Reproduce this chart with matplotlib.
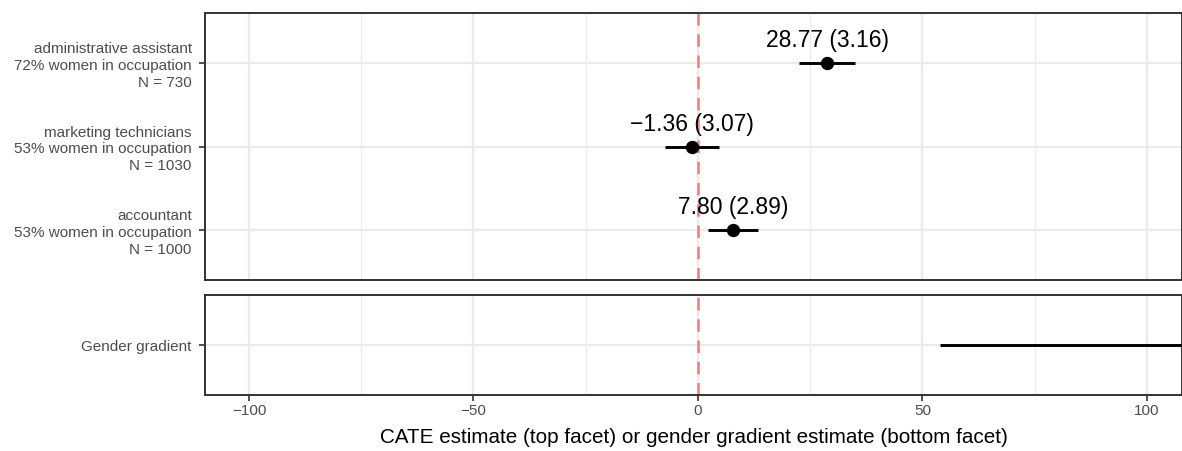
import numpy as np
import matplotlib.pyplot as plt
from matplotlib.ticker import MultipleLocator

plt.rcParams['font.family'] = ['Liberation Sans', 'DejaVu Sans']

# CATE estimates per occupation (top facet)
occupations = ['administrative assistant', 'marketing technicians', 'accountant']
pct_women = [72, 53, 53]
n_obs = [730, 1030, 1000]
cate = [28.77, -1.36, 7.80]
cate_se = [3.16, 3.07, 2.89]

# gender gradient interval (bottom facet), upper end runs off the axis
gradient_label = 'Gender gradient'
gradient_lo = 54.0
gradient_hi = 210.0

xlim = (-109.8, 107.8)
grid_col = '#EBEBEB'
frame_col = '#333333'

fig = plt.figure(figsize=(11.82, 4.51), dpi=100)
left, right = 205 / 1182, 1.0
ax_top = fig.add_axes([left, 1 - 280 / 451, right - left, 267 / 451])
ax_bot = fig.add_axes([left, 1 - 395 / 451, right - left, 100 / 451])


def style_axis(ax, nlev):
    ax.set_xlim(*xlim)
    ax.set_ylim(nlev + 0.6, 0.4)
    ax.xaxis.set_major_locator(MultipleLocator(50))
    ax.xaxis.set_minor_locator(MultipleLocator(25))
    ax.grid(True, which='major', color=grid_col, lw=1.6, zorder=0)
    ax.grid(True, which='minor', axis='x', color=grid_col, lw=0.8, zorder=0)
    ax.set_axisbelow(True)
    for s in ax.spines.values():
        s.set_color(frame_col)
        s.set_linewidth(1.4)
    ax.tick_params(which='major', length=4, width=1.2, color=frame_col,
                   labelcolor='#4D4D4D', labelsize=11, pad=2.5)
    ax.tick_params(axis='y', pad=5.5)
    ax.tick_params(which='minor', length=0)
    ax.axvline(0, color='#F07C7C', lw=1.8, ls=(0, (5, 3.5)), zorder=2)


# top facet
ypos = np.arange(1, len(occupations) + 1)
style_axis(ax_top, len(occupations))
ax_top.set_yticks(ypos)
ax_top.set_yticklabels([f'{o}\n{p}% women in occupation\nN = {n}'
                        for o, p, n in zip(occupations, pct_women, n_obs)],
                       linespacing=1.26, ha='right')
ax_top.tick_params(axis='x', labelbottom=False, length=0)
for y, est, se in zip(ypos, cate, cate_se):
    ax_top.plot([est - 1.96 * se, est + 1.96 * se], [y, y], color='black',
                lw=2.1, solid_capstyle='butt', zorder=3)
    ax_top.plot(est, y, 'o', color='black', ms=8.6, zorder=4)
    lab = f'{est:.2f} ({se:.2f})'.replace('-', '\u2212')
    ax_top.text(est, y - 0.13, lab, ha='center', va='bottom', fontsize=16.5,
                zorder=5)

# bottom facet
style_axis(ax_bot, 1)
ax_bot.set_yticks([1])
ax_bot.set_yticklabels([gradient_label])
ax_bot.plot([gradient_lo, gradient_hi], [1, 1], color='black', lw=2.1,
            solid_capstyle='butt', zorder=3)
ax_bot.set_xticklabels([f'{int(v)}'.replace('-', '\u2212')
                        for v in ax_bot.get_xticks()])
ax_bot.set_xlim(*xlim)
ax_bot.set_xlabel('CATE estimate (top facet) or gender gradient estimate (bottom facet)',
                  fontsize=14.9, labelpad=7)

fig.savefig('out.png', dpi=100)
